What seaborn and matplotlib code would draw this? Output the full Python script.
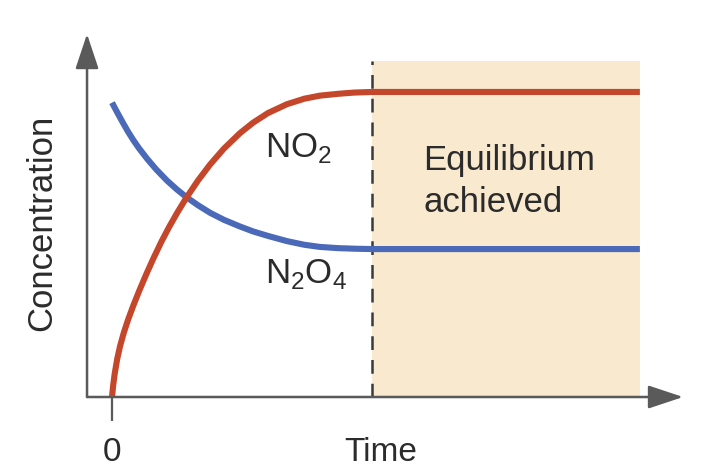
import matplotlib
matplotlib.use("Agg")
import matplotlib.pyplot as plt
import seaborn as sns
import pandas as pd

# values (time in arbitrary units, concentration relative to NO2 plateau)
no2_time = [0.00, 0.04, 0.10, 0.20, 0.31, 0.45, 0.62, 0.82, 1.05, 1.33, 1.60, 1.91, 2.20,
            2.50, 2.85, 3.30, 3.77, 4.30, 4.92, 5.42, 6.00, 6.73, 7.40, 8.00, 8.70, 9.30,
            10.0, 20.3]
no2_conc = [0.000, 0.035, 0.075, 0.125, 0.167, 0.210, 0.254, 0.300, 0.349, 0.405, 0.456, 0.511, 0.558,
            0.603, 0.652, 0.709, 0.762, 0.814, 0.865, 0.899, 0.931, 0.960, 0.978, 0.988, 0.994, 0.998,
            1.000, 1.000]

n2o4_time = [0.00, 0.20, 0.40, 0.60, 0.82, 1.05, 1.35, 1.70, 2.12, 2.50, 2.85, 3.30, 3.77,
             4.30, 4.92, 5.42, 6.00, 6.73, 7.40, 8.00, 8.70, 9.40, 10.0, 20.3]
n2o4_conc = [0.965, 0.933, 0.902, 0.872, 0.842, 0.814, 0.781, 0.746, 0.709, 0.680, 0.656, 0.629, 0.604,
             0.581, 0.559, 0.543, 0.528, 0.511, 0.499, 0.492, 0.488, 0.486, 0.485, 0.485]

equilibrium_start = 10.0
equilibrium_end = 20.3
shade_top = 1.102

df_no2 = pd.DataFrame({"time": no2_time, "conc": no2_conc})
df_n2o4 = pd.DataFrame({"time": n2o4_time, "conc": n2o4_conc})

sns.set_style("white")
plt.rcParams["font.family"] = ["Liberation Sans", "DejaVu Sans"]
plt.rcParams["mathtext.fontset"] = "custom"
plt.rcParams["mathtext.rm"] = "Liberation Sans"

red = "#C5472B"
blue = "#4B69B9"
shade = "#F8E9CF"
axis_col = "#5a5a5a"
text_col = "#2b2b2b"

fig = plt.figure(figsize=(7.18, 4.77), dpi=100)
ax = fig.add_axes([0.1212, 0.1656, 0.8301, 0.761])

# equilibrium region
ax.fill_between([equilibrium_start, equilibrium_end], 0, shade_top, color=shade, lw=0, zorder=0)
ax.plot([equilibrium_start, equilibrium_start], [0, shade_top], color="#3a3a3a", lw=1.8,
        dashes=(5.5, 4), zorder=1)

sns.lineplot(data=df_no2, x="time", y="conc", color=red, lw=4.4, ax=ax, sort=False,
             solid_capstyle="butt", solid_joinstyle="round", zorder=3)
sns.lineplot(data=df_n2o4, x="time", y="conc", color=blue, lw=4.4, ax=ax, sort=False,
             solid_capstyle="butt", solid_joinstyle="round", zorder=2)

ax.set_xlim(-0.9615, 21.96)
ax.set_ylim(0, 1.19)

# axes drawn as arrows
for s in ax.spines.values():
    s.set_visible(False)
arrow = dict(arrowstyle="-|>,head_length=0.6,head_width=0.2", mutation_scale=36,
             color=axis_col, lw=1.8, shrinkA=0, shrinkB=0)
ax.annotate("", xy=(1, 0), xytext=(0, 0), xycoords="axes fraction", arrowprops=arrow)
ax.annotate("", xy=(0, 1), xytext=(0, 0), xycoords="axes fraction", arrowprops=arrow)

ax.set_xticks([0])
ax.set_xticklabels(["0"])
ax.set_yticks([])
ax.tick_params(axis="x", length=17, width=1.6, color=axis_col, pad=11,
               labelsize=24, labelcolor=text_col, direction="out", bottom=True)

ax.set_xlabel("Time", fontsize=24, color=text_col)
ax.xaxis.set_label_coords(0.493, -0.108)
ax.xaxis.label.set_va("top")
ax.set_ylabel("")
ax.text(-0.0755, 0.482, "Concentration", transform=ax.transAxes, rotation=90,
        ha="center", va="center", fontsize=25, color=text_col)

# curve labels
ax.text(5.88, 0.790, r"NO$_{\mathregular{2}}$", fontsize=25, color=text_col,
        ha="left", va="baseline")
ax.text(5.88, 0.377, r"N$_{\mathregular{2}}$O$_{\mathregular{4}}$", fontsize=25,
        color=text_col, ha="left", va="baseline")
ax.text(11.96, 0.748, "Equilibrium", fontsize=25, color=text_col, ha="left", va="baseline")
ax.text(11.96, 0.611, "achieved", fontsize=25, color=text_col, ha="left", va="baseline")

fig.savefig("out.png", dpi=100)
